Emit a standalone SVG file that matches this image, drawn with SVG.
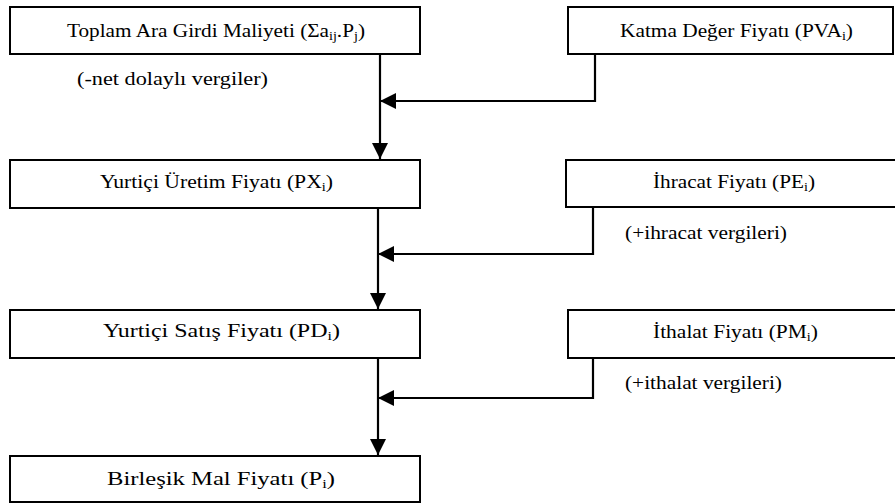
<svg xmlns="http://www.w3.org/2000/svg" width="895" height="504" viewBox="0 0 895 504">
<style>
.box{fill:#fff;stroke:#000;stroke-width:2}
text{font-family:"Liberation Serif","Times New Roman",serif;font-size:18px;fill:#000}
.s{font-size:12px}
.ln{fill:none;stroke:#000;stroke-width:2.2}
</style>
<defs>
<marker id="ah" viewBox="0 0 16 16" refX="16" refY="8" markerWidth="16" markerHeight="16" markerUnits="userSpaceOnUse" orient="auto">
<path d="M0,0 L16,8 L0,16 Z" fill="#000"/>
</marker>
</defs>
<rect width="895" height="504" fill="#fff"/>
<g id="n1"><rect class="box" x="10" y="7" width="410" height="47"/>
<text x="67" y="37" textLength="298" lengthAdjust="spacingAndGlyphs">Toplam Ara Girdi Maliyeti (Σa<tspan class="s" dy="3">ij</tspan><tspan dy="-3">.P</tspan><tspan class="s" dy="3">j</tspan><tspan dy="-3">)</tspan></text></g>
<g id="n2"><rect class="box" x="568" y="7" width="325" height="47"/>
<text x="620" y="37" textLength="233" lengthAdjust="spacingAndGlyphs">Katma Değer Fiyatı (PVA<tspan class="s" dy="3">i</tspan><tspan dy="-3">)</tspan></text></g>
<g id="n3"><rect class="box" x="10" y="160" width="410" height="48"/>
<text x="100" y="188" textLength="233" lengthAdjust="spacingAndGlyphs">Yurtiçi Üretim Fiyatı (PX<tspan class="s" dy="3">i</tspan><tspan dy="-3">)</tspan></text></g>
<g id="n4"><rect class="box" x="566" y="160" width="335" height="47"/>
<text x="653" y="188" textLength="162" lengthAdjust="spacingAndGlyphs">İhracat Fiyatı (PE<tspan class="s" dy="3">i</tspan><tspan dy="-3">)</tspan></text></g>
<g id="n5"><rect class="box" x="10" y="310" width="410" height="48"/>
<text x="103" y="337" textLength="237" lengthAdjust="spacingAndGlyphs">Yurtiçi Satış Fiyatı (PD<tspan class="s" dy="3">i</tspan><tspan dy="-3">)</tspan></text></g>
<g id="n6"><rect class="box" x="568" y="310" width="335" height="48"/>
<text x="653" y="338" textLength="165" lengthAdjust="spacingAndGlyphs">İthalat Fiyatı (PM<tspan class="s" dy="3">i</tspan><tspan dy="-3">)</tspan></text></g>
<g id="n7"><rect class="box" x="10" y="456" width="410" height="46"/>
<text x="107" y="485" textLength="228" lengthAdjust="spacingAndGlyphs">Birleşik Mal Fiyatı (P<tspan class="s" dy="3">i</tspan><tspan dy="-3">)</tspan></text></g>
<g id="labels">
<text x="77" y="85" textLength="191" lengthAdjust="spacingAndGlyphs">(-net dolaylı vergiler)</text>
<text x="625" y="239" textLength="162" lengthAdjust="spacingAndGlyphs">(+ihracat vergileri)</text>
<text x="625" y="389" textLength="157" lengthAdjust="spacingAndGlyphs">(+ithalat vergileri)</text>
</g>
<g id="connectors">
<path class="ln" d="M380,54 V159" marker-end="url(#ah)"/>
<path class="ln" d="M595,55 V101 H380" marker-end="url(#ah)"/>
<path class="ln" d="M378,208 V309" marker-end="url(#ah)"/>
<path class="ln" d="M593,207 V254 H378" marker-end="url(#ah)"/>
<path class="ln" d="M378,358 V455" marker-end="url(#ah)"/>
<path class="ln" d="M593,358 V398 H378" marker-end="url(#ah)"/>
</g>
</svg>
